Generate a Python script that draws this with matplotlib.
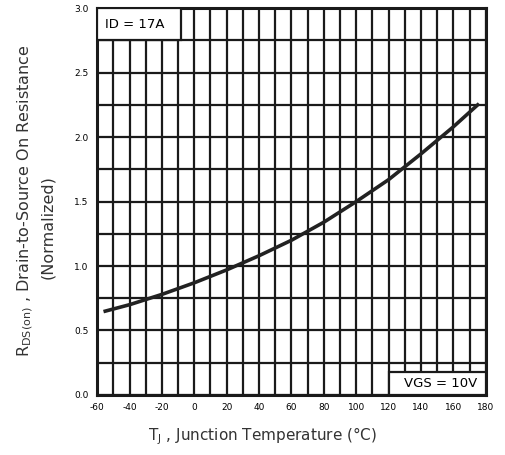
import matplotlib.pyplot as plt
from matplotlib.patches import Rectangle
import numpy as np

# Tj (°C) and normalized RDS(on)
temp = [-55, -40, -20, 0, 20, 40, 60, 80, 100, 120, 140, 160, 175]
rds = [0.65, 0.70, 0.78, 0.87, 0.97, 1.08, 1.20, 1.34, 1.50, 1.67, 1.87, 2.08, 2.25]

x_ticks = [-60, -40, -20, 0, 20, 40, 60, 80, 100, 120, 140, 160, 180]
y_ticks = [0.0, 0.5, 1.0, 1.5, 2.0, 2.5, 3.0]

fig = plt.figure(figsize=(5.06, 4.55), dpi=100)
ax = fig.add_axes([0.192, 0.132, 0.768, 0.850])

# heavy grid like the datasheet scan
for xv in np.arange(-60, 181, 10):
    ax.axvline(xv, color='#1a1a1a', linewidth=1.6, zorder=1)
for yv in np.arange(0, 3.01, 0.25):
    ax.axhline(yv, color='#1a1a1a', linewidth=1.6, zorder=1)

ax.plot(temp, rds, color='#222222', linewidth=2.6, zorder=3)

ax.set_xlim(-60, 180)
ax.set_ylim(0, 3.0)
ax.set_xticks(x_ticks)
ax.set_xticklabels([str(t) for t in x_ticks], fontsize=6.5)
ax.set_yticks(y_ticks)
ax.set_yticklabels(['%.1f' % v for v in y_ticks], fontsize=6.5)
ax.tick_params(length=0, pad=6)
for s in ax.spines.values():
    s.set_linewidth(2.2)
    s.set_color('#1a1a1a')

# label boxes
ax.add_patch(Rectangle((-60, 2.75), 52, 0.25, facecolor='white', edgecolor='#1a1a1a',
                       linewidth=1.6, zorder=4))
ax.text(-55, 2.875, 'ID = 17A', fontsize=9.5, va='center', ha='left', zorder=5)
ax.add_patch(Rectangle((120, 0), 60, 0.18, facecolor='white', edgecolor='#1a1a1a',
                       linewidth=1.6, zorder=4))
ax.text(175, 0.085, 'VGS = 10V', fontsize=9.5, va='center', ha='right', zorder=5)

fig.text(0.518, 0.042, r'T$_{\mathrm{J}}$ , Junction Temperature (°C)', fontsize=11,
         color='#333333', ha='center', va='center')
fig.text(0.05, 0.56, r'R$_{\mathrm{DS(on)}}$ , Drain-to-Source On Resistance', rotation=90,
         fontsize=11.5, color='#333333', ha='center', va='center')
fig.text(0.095, 0.50, '(Normalized)', rotation=90, fontsize=11.5, color='#333333',
         ha='center', va='center')

fig.savefig('out.png', dpi=100)
